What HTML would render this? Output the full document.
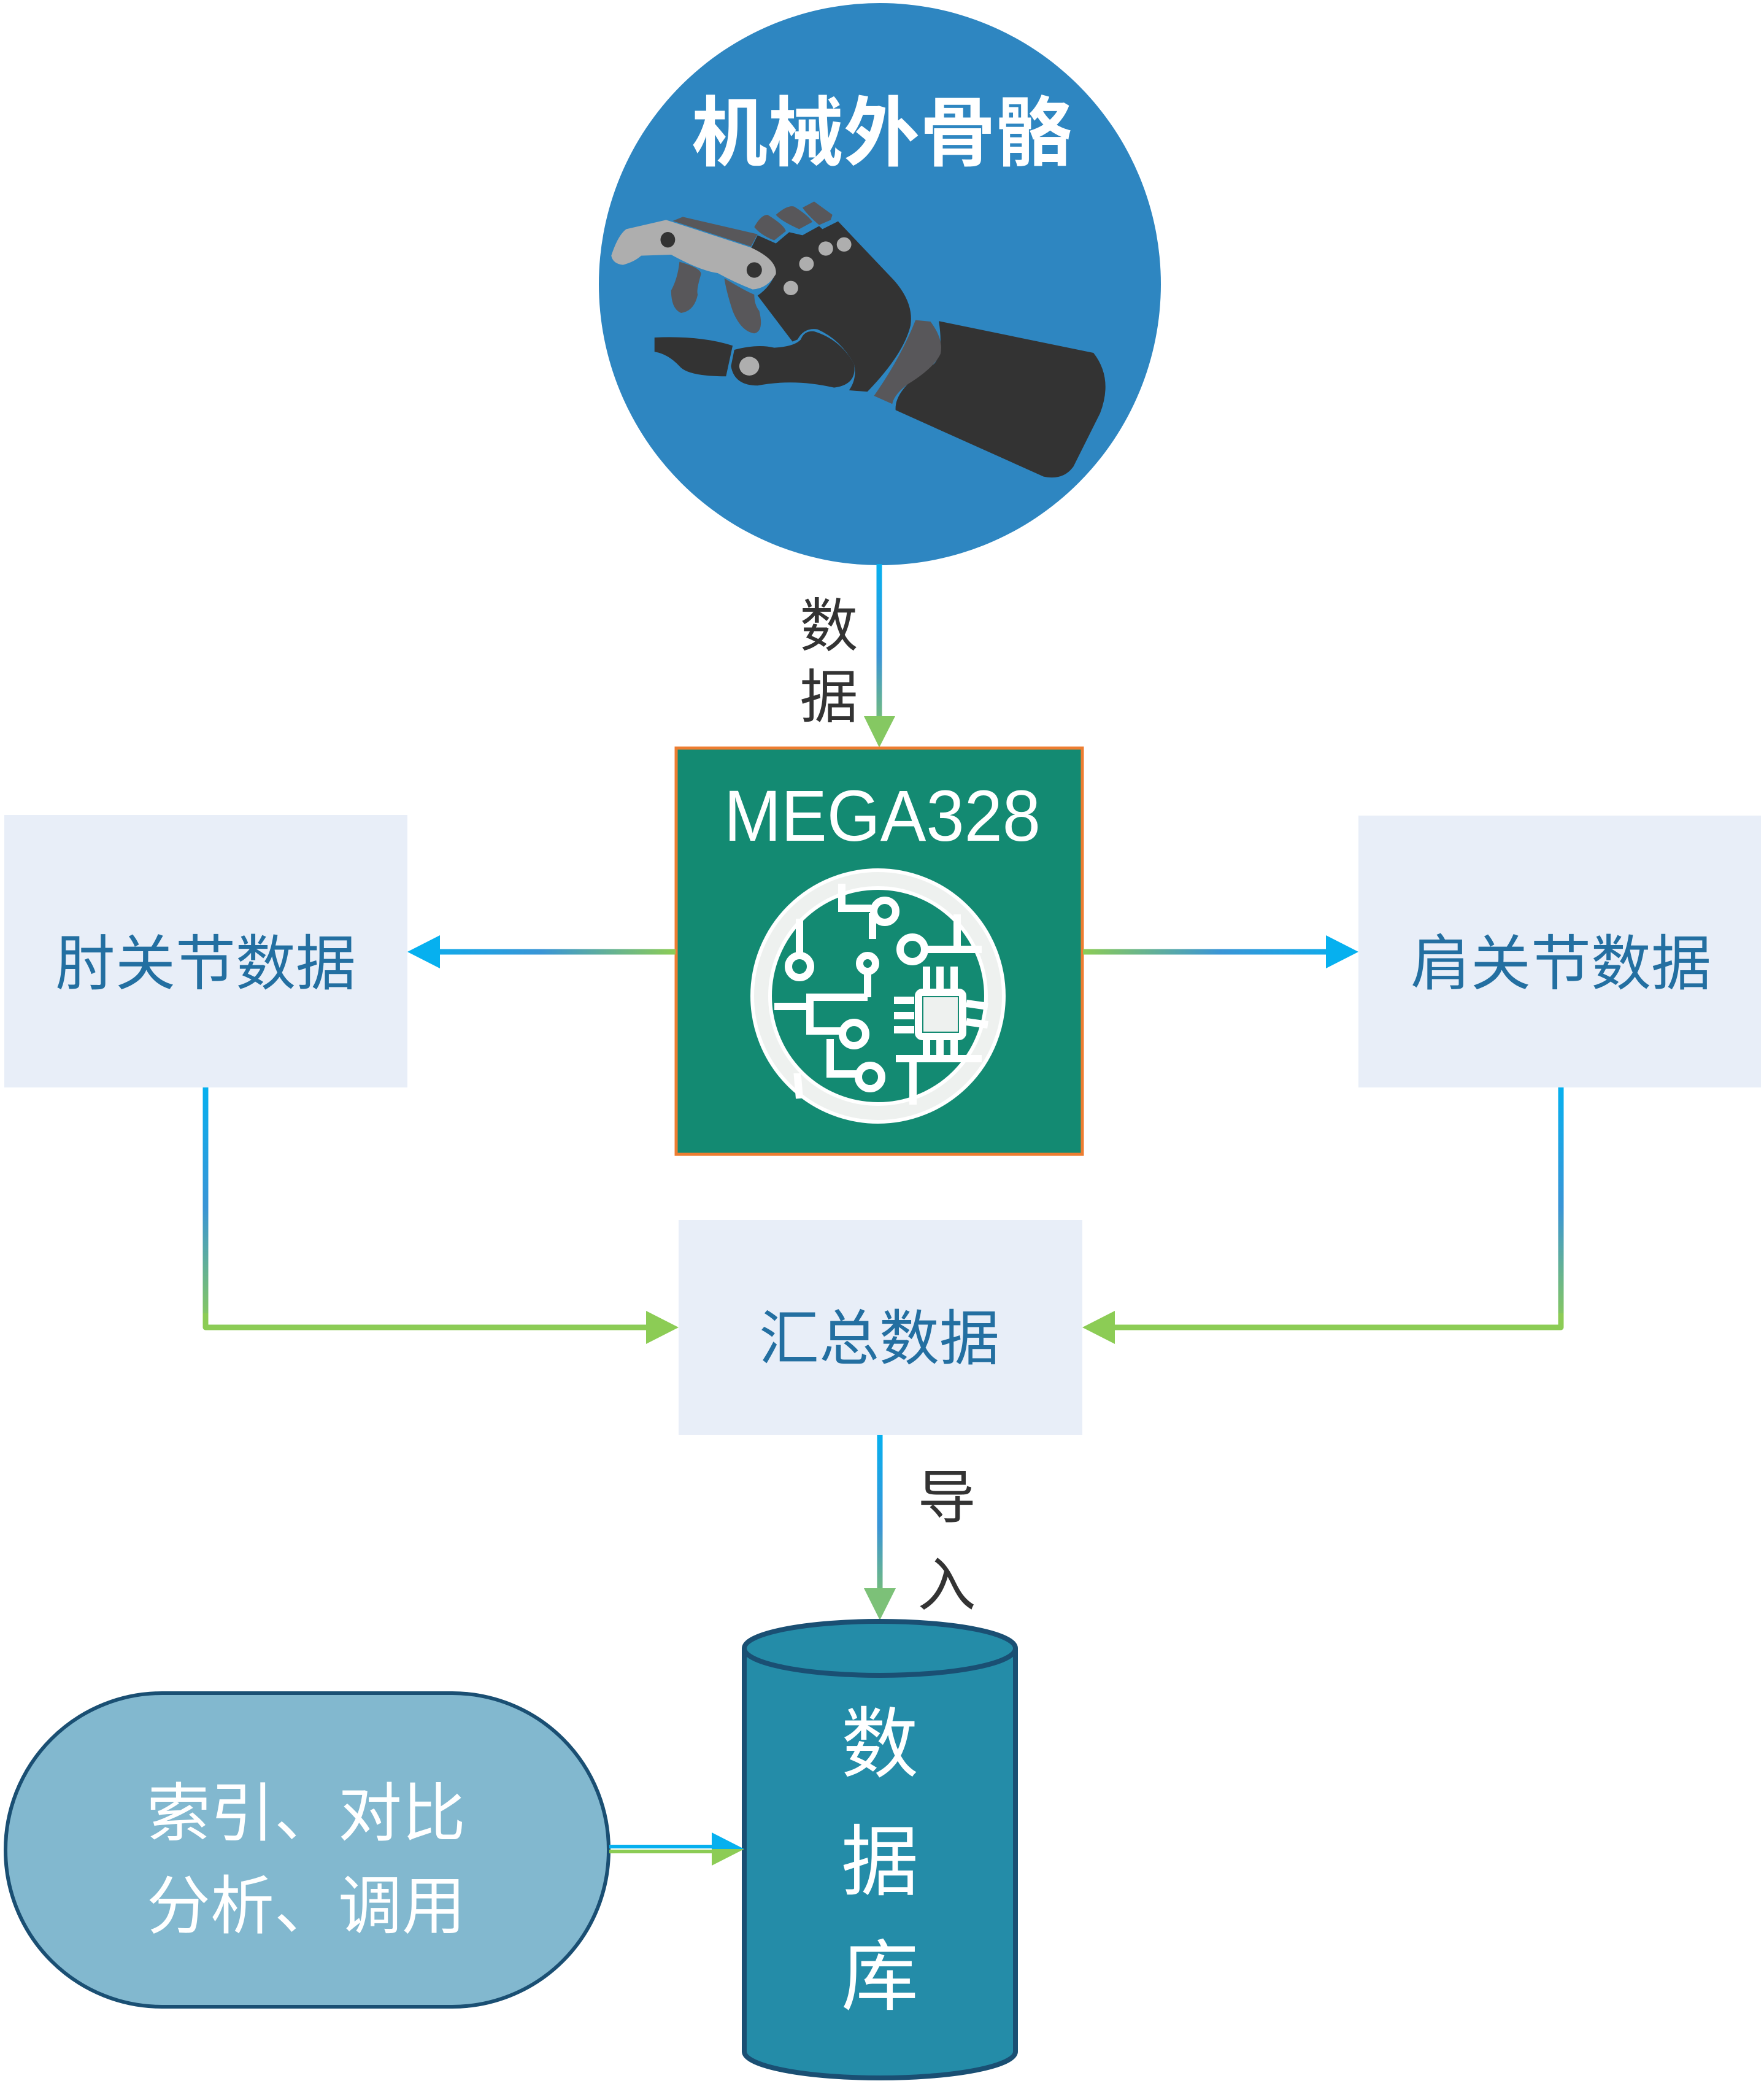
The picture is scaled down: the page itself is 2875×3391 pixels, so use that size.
<!DOCTYPE html>
<html><head><meta charset="utf-8"><style>
html,body{margin:0;padding:0;background:#fff;}
svg{display:block;}
.cjk{font-family:"Liberation Sans","Noto Sans CJK SC",sans-serif;}
</style></head><body>
<svg width="2875" height="3391" viewBox="0 0 2875 3391" xmlns="http://www.w3.org/2000/svg">
<defs>
<linearGradient id="gV1" gradientUnits="userSpaceOnUse" x1="0" y1="919" x2="0" y2="1218"><stop offset="0" stop-color="#06b0ef"/><stop offset="0.5" stop-color="#3a95d6"/><stop offset="1" stop-color="#8ccc55"/></linearGradient>
<linearGradient id="gHL" gradientUnits="userSpaceOnUse" x1="1101" y1="0" x2="664" y2="0"><stop offset="0" stop-color="#8ccc55"/><stop offset="0.5" stop-color="#3a95d6"/><stop offset="1" stop-color="#06b0ef"/></linearGradient>
<linearGradient id="gHR" gradientUnits="userSpaceOnUse" x1="1765" y1="0" x2="2214" y2="0"><stop offset="0" stop-color="#8ccc55"/><stop offset="0.5" stop-color="#3a95d6"/><stop offset="1" stop-color="#06b0ef"/></linearGradient>
<linearGradient id="gV2" gradientUnits="userSpaceOnUse" x1="0" y1="1772" x2="0" y2="2163"><stop offset="0" stop-color="#06b0ef"/><stop offset="0.5" stop-color="#3a95d6"/><stop offset="1" stop-color="#8ccc55"/></linearGradient>
<linearGradient id="gV3" gradientUnits="userSpaceOnUse" x1="0" y1="2338" x2="0" y2="2640"><stop offset="0" stop-color="#06b0ef"/><stop offset="0.5" stop-color="#3a95d6"/><stop offset="1" stop-color="#8ccc55"/></linearGradient>
</defs>

<!-- top circle -->
<circle cx="1434" cy="463" r="458" fill="#2e86c1"/>
<text x="1437" y="260" class="cjk" font-size="124" font-weight="bold" fill="#fff" text-anchor="middle">机械外骨骼</text>
<g transform="translate(980,300) scale(0.542,0.3333)">
<path d="M1015,670 L1480,825 Q1540,950 1500,1120 L1420,1380 Q1390,1450 1330,1430 L885,1105 Q880,1000 1000,880 Q1030,830 1015,670 Z" fill="#333"/>
<path d="M945,665 L990,672 Q1030,760 1020,830 Q1000,900 920,980 Q880,1030 875,1075 L820,1035 Q900,850 945,665Z" fill="#58575a"/>
<path d="M470,250 L525,290 L565,235 L605,250 L655,205 L665,220 L712,182 L880,470 Q940,580 930,690 Q910,830 800,1015 L745,1008 Q770,950 760,880 Q720,760 650,710 Q610,700 590,760 L575,770 L470,545 Q510,500 525,430 Q510,360 450,315 Z" fill="#333"/>
<path d="M160,750 Q300,740 395,790 L375,940 Q260,940 235,890 Q200,830 160,820 Z" fill="#333"/>
<path d="M400,810 Q470,780 520,800 Q580,795 600,760 Q610,715 640,720 Q720,760 760,880 Q770,980 700,995 Q580,950 470,985 Q400,985 390,890 Z" fill="#333"/>
<ellipse cx="445" cy="890" rx="30" ry="46" fill="#aeaeae"/>
<path d="M235,380 Q300,410 300,440 Q285,520 290,540 Q280,620 240,630 Q210,610 210,520 Q230,460 235,380Z" fill="#58575a"/>
<path d="M370,460 Q430,520 460,540 Q460,590 475,620 Q490,720 460,730 Q420,720 395,620 Q375,520 370,460Z" fill="#58575a"/>
<path d="M215,180 L245,160 L470,245 L450,305 Z" fill="#58575a"/>
<path d="M30,350 Q50,250 75,220 L195,175 L450,310 Q530,370 525,440 Q500,510 455,515 Q400,480 350,435 Q300,425 210,345 L120,350 Q100,380 65,395 Q35,390 30,350Z" fill="#aeaeae"/>
<ellipse cx="200" cy="272" rx="22" ry="38" fill="#333"/>
<ellipse cx="460" cy="420" rx="23" ry="38" fill="#333"/>
<path d="M460,210 Q480,150 500,150 Q550,200 555,230 L520,275 Q480,250 460,210Z" fill="#58575a"/>
<path d="M525,150 Q560,100 580,110 Q620,150 635,185 L595,220 Q540,180 525,150Z" fill="#58575a"/>
<path d="M605,115 L640,85 L695,150 L690,175 L655,200 Q620,150 605,115Z" fill="#58575a"/>
<ellipse cx="730" cy="295" rx="22" ry="35" fill="#aeaeae"/>
<ellipse cx="675" cy="315" rx="22" ry="35" fill="#aeaeae"/>
<ellipse cx="617" cy="390" rx="22" ry="35" fill="#aeaeae"/>
<ellipse cx="570" cy="508" rx="22" ry="35" fill="#aeaeae"/>
</g>

<!-- arrow circle -> MEGA -->
<line x1="1433" y1="919" x2="1433" y2="1172" stroke="url(#gV1)" stroke-width="9"/>
<polygon points="1408,1167 1459,1167 1433,1218" fill="#85c862"/>
<text x="1351" y="1053" class="cjk" font-size="95" fill="#333" text-anchor="middle">数</text>
<text x="1351" y="1169" class="cjk" font-size="95" fill="#333" text-anchor="middle">据</text>

<!-- MEGA box -->
<rect x="1102" y="1219" width="662" height="662" fill="#138a72" stroke="#ed7d31" stroke-width="5"/>
<text x="1180" y="1370" font-family="Liberation Sans,sans-serif" font-size="118" fill="#fff" textLength="516" lengthAdjust="spacingAndGlyphs">MEGA328</text>
<g fill="none" stroke="#fff" stroke-width="12">
<circle cx="1431" cy="1623" r="190" stroke-width="26" stroke="#eef1ef"/>
<circle cx="1431" cy="1623" r="205" stroke-width="6"/>
<circle cx="1431" cy="1623" r="176" stroke-width="6"/>
<circle cx="1303" cy="1575" r="18"/>
<line x1="1303" y1="1497" x2="1303" y2="1557"/>
<circle cx="1414" cy="1570" r="13"/>
<line x1="1414" y1="1583" x2="1414" y2="1625"/>
<polyline points="1414,1625 1320,1625 1320,1680 1375,1680"/>
<polyline points="1262,1640 1320,1640"/>
<circle cx="1392" cy="1685" r="19"/>
<polyline points="1353,1693 1353,1750 1400,1750"/>
<circle cx="1418" cy="1755" r="19"/>
<polyline points="1305,1755 1300,1755 1303,1790"/>
<circle cx="1487" cy="1547" r="20"/>
<polyline points="1507,1547 1560,1547 1560,1490"/>
<polyline points="1560,1547 1600,1547"/>
<polyline points="1372,1440 1372,1480 1420,1480"/>
<circle cx="1442" cy="1485" r="18"/>
<line x1="1422" y1="1488" x2="1422" y2="1530"/>
<rect x="1497" y="1617" width="72" height="72" rx="6"/>
<line x1="1510" y1="1575" x2="1510" y2="1612"/><line x1="1532" y1="1575" x2="1532" y2="1612"/><line x1="1555" y1="1575" x2="1555" y2="1612"/>
<line x1="1510" y1="1695" x2="1510" y2="1722"/><line x1="1532" y1="1695" x2="1532" y2="1722"/><line x1="1555" y1="1695" x2="1555" y2="1722"/>
<line x1="1457" y1="1630" x2="1490" y2="1630"/><line x1="1457" y1="1655" x2="1490" y2="1655"/><line x1="1457" y1="1678" x2="1490" y2="1678"/>
<line x1="1575" y1="1635" x2="1610" y2="1640"/><line x1="1575" y1="1665" x2="1610" y2="1670"/>
<polyline points="1460,1725 1600,1725"/>
<line x1="1488" y1="1725" x2="1488" y2="1800"/>
</g>
<rect x="1505" y="1625" width="56" height="56" fill="#eef1ef"/>

<!-- side boxes -->
<rect x="7" y="1328" width="657" height="444" fill="#e8eef8"/>
<text x="335" y="1604" class="cjk" font-size="98" fill="#236fa1" text-anchor="middle">肘关节数据</text>
<rect x="2214" y="1329" width="656" height="443" fill="#e8eef8"/>
<text x="2544" y="1604" class="cjk" font-size="98" fill="#236fa1" text-anchor="middle">肩关节数据</text>

<line x1="1101" y1="1551" x2="712" y2="1551" stroke="url(#gHL)" stroke-width="9"/>
<polygon points="664,1551 717,1524 717,1578" fill="#06b0ef"/>
<line x1="1765" y1="1551" x2="2166" y2="1551" stroke="url(#gHR)" stroke-width="9"/>
<polygon points="2214,1551 2161,1524 2161,1578" fill="#06b0ef"/>

<!-- summary -->
<rect x="1106" y="1988" width="658" height="350" fill="#e8eef8"/>
<text x="1433" y="2215" class="cjk" font-size="98" fill="#236fa1" text-anchor="middle">汇总数据</text>
<polyline points="335,1772 335,2163 1060,2163" fill="none" stroke="url(#gV2)" stroke-width="9" stroke-linejoin="round"/>
<line x1="335" y1="2140" x2="335" y2="2163" stroke="#8ccc55" stroke-width="9"/>
<polygon points="1106,2163 1053,2136 1053,2190" fill="#8ccc55"/>
<polyline points="2544,1772 2544,2163 1810,2163" fill="none" stroke="url(#gV2)" stroke-width="9" stroke-linejoin="round"/>
<line x1="2544" y1="2140" x2="2544" y2="2163" stroke="#8ccc55" stroke-width="9"/>
<line x1="2544" y1="2163" x2="1810" y2="2163" stroke="#8ccc55" stroke-width="9"/>
<polygon points="1764,2163 1817,2136 1817,2190" fill="#8ccc55"/>

<!-- arrow to DB -->
<line x1="1434" y1="2338" x2="1434" y2="2592" stroke="url(#gV3)" stroke-width="9"/>
<polygon points="1408,2588 1460,2588 1434,2640" fill="#7cc178"/>
<text x="1543" y="2473" class="cjk" font-size="95" fill="#333" text-anchor="middle">导</text>
<text x="1543" y="2616" class="cjk" font-size="95" fill="#333" text-anchor="middle">入</text>

<!-- cylinder -->
<path d="M1213,2686 L1213,3343 A221,43 0 0 0 1655,3343 L1655,2686" fill="#248ca8" stroke="#1a4f73" stroke-width="8"/>
<ellipse cx="1434" cy="2686" rx="221" ry="44" fill="#248ca8" stroke="#1a4f73" stroke-width="8"/>
<text x="1434" y="2886" class="cjk" font-size="126" fill="#fff" text-anchor="middle">数</text>
<text x="1434" y="3078" class="cjk" font-size="126" fill="#fff" text-anchor="middle">据</text>
<text x="1434" y="3265" class="cjk" font-size="126" fill="#fff" text-anchor="middle">库</text>

<!-- stadium -->
<rect x="9" y="2759" width="983" height="511" rx="255" ry="255" fill="#82b8cf" stroke="#1a4f73" stroke-width="6"/>
<text x="499" y="2991" class="cjk" font-size="104" fill="#fff" text-anchor="middle">索引、对比</text>
<text x="499" y="3142" class="cjk" font-size="104" fill="#fff" text-anchor="middle">分析、调用</text>

<line x1="993" y1="3009" x2="1165" y2="3009" stroke="#06b0ef" stroke-width="6"/>
<line x1="993" y1="3017" x2="1165" y2="3017" stroke="#8ccc55" stroke-width="6"/>
<polygon points="1160,2986 1213,3013 1160,3013" fill="#06b0ef"/>
<polygon points="1160,3013 1213,3013 1160,3040" fill="#8ccc55"/>
</svg>
</body></html>
